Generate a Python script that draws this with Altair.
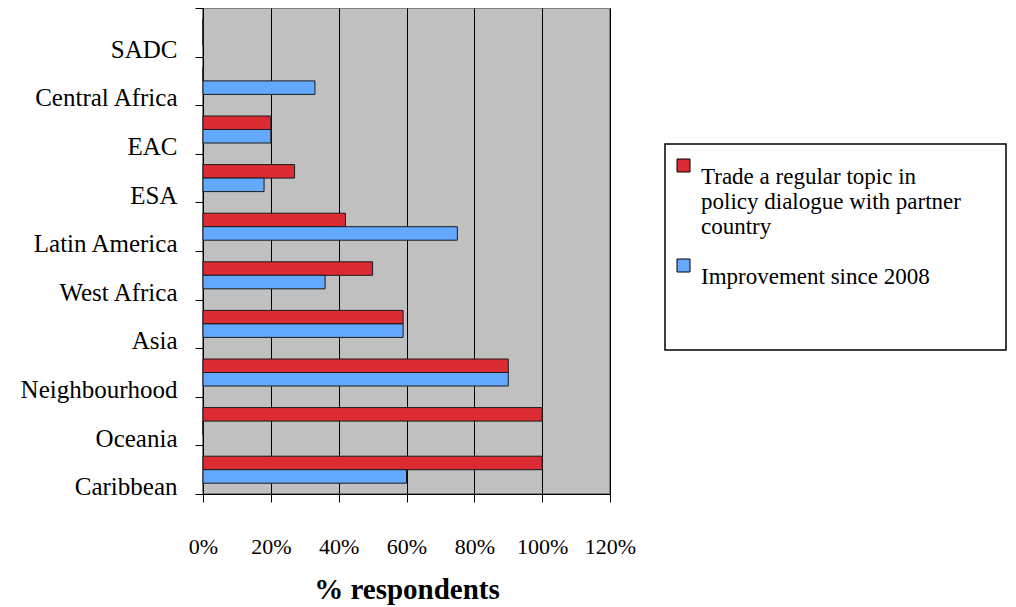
import altair as alt
import pandas as pd

# ---- data ----
regions = ["SADC", "Central Africa", "EAC", "ESA", "Latin America",
           "West Africa", "Asia", "Neighbourhood", "Oceania", "Caribbean"]
trade_pct = [0, 0, 20, 27, 42, 50, 59, 90, 100, 100]
improvement_pct = [0, 33, 20, 18, 75, 36, 59, 90, 0, 60]
series_names = ["Trade a regular topic in policy dialogue with partner country",
                "Improvement since 2008"]
series_colors = ["#DD2B33", "#63A9FF"]
x_ticks_pct = [0, 20, 40, 60, 80, 100, 120]

rows = []
for r, t, i in zip(regions, trade_pct, improvement_pct):
    rows.append({"region": r, "series": series_names[0], "value": t / 100})
    rows.append({"region": r, "series": series_names[1], "value": i / 100})
df = pd.DataFrame(rows)

FONT = "Liberation Serif"

legend_expr = (
    "datum.label == '" + series_names[0] + "' ? "
    "['Trade a regular topic in', 'policy dialogue with partner', 'country'] : datum.label"
)

bars = alt.Chart(df).mark_bar(stroke="#1a1a1a", strokeWidth=1).encode(
    x=alt.X(
        "value:Q",
        scale=alt.Scale(domain=[0, 1.2], nice=False, zero=True),
        axis=alt.Axis(
            values=[v / 100 for v in x_ticks_pct], format=".0%",
            title="% respondents", grid=True, gridColor="black", gridWidth=1,
            domainColor="black", tickColor="black", tickSize=8,
            labelFont=FONT, labelFontSize=22, labelColor="black", labelPadding=34,
            labelFlush=False,
            titleFont=FONT, titleFontSize=29, titleFontWeight="bold", titleColor="black",
            titleY=104, titleBaseline="alphabetic",
        ),
    ),
    y=alt.Y(
        "region:N", sort=regions,
        scale=alt.Scale(paddingInner=0, paddingOuter=0),
        axis=alt.Axis(
            title=None, tickBand="extent", grid=False,
            domainColor="black", tickColor="black", tickSize=8,
            labelFont=FONT, labelFontSize=25, labelColor="black",
            labelPadding=18, labelOffset=25, labelBaseline="alphabetic",
            labelLimit=300,
        ),
    ),
    yOffset=alt.YOffset(
        "series:N", sort=series_names,
        scale=alt.Scale(paddingInner=0, paddingOuter=0.8),
    ),
    color=alt.Color(
        "series:N",
        scale=alt.Scale(domain=series_names, range=series_colors),
        legend=alt.Legend(
            orient="none", legendX=469, legendY=146, padding=0, title=None,
            symbolType="square", symbolSize=169, symbolStrokeColor="black",
            symbolStrokeWidth=1, labelFont=FONT, labelFontSize=23,
            labelColor="black", labelLimit=400, labelBaseline="top",
            labelExpr=legend_expr, rowPadding=15, labelOffset=6,
        ),
    ),
)

legend_box = alt.Chart(pd.DataFrame({"k": [0]})).mark_rect(
    filled=False, stroke="black", strokeWidth=1.5
).encode(
    x=alt.value(462), x2=alt.value(803), y=alt.value(136), y2=alt.value(342)
)

chart = alt.layer(bars, legend_box).properties(
    width=407, height=486,
    autosize=alt.AutoSizeParams(type="none"),
    padding={"left": 195, "top": 0, "right": 398, "bottom": 111},
).configure(
    font=FONT
).configure_view(
    fill="#C0C0C0", stroke="#808080", strokeWidth=2
)

chart.save("out.html", embed_options={"renderer": "svg", "actions": False})
